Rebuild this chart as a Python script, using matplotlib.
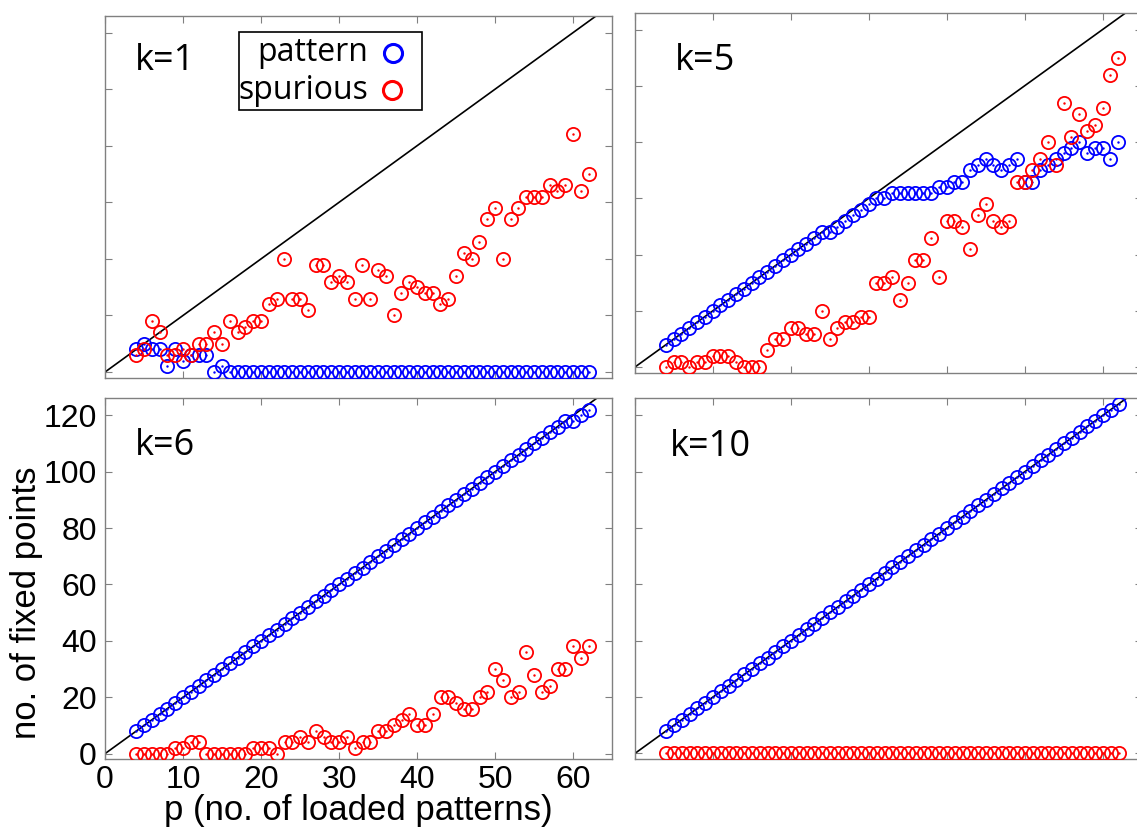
import numpy as np
import matplotlib
matplotlib.use("Agg")
import matplotlib.pyplot as plt
from matplotlib.patches import Rectangle

# loaded patterns p = 4 .. 62
p = np.arange(4, 63)

# k = 1
pattern_k1 = [8, 10, 8, 8, 2, 8, 4, 6, 6, 6, 0, 2] + [0] * 47
spurious_k1 = [6, 8, 18, 14, 6, 6, 8, 6, 10, 10, 14, 10, 18, 14, 16, 18, 18, 24, 26, 40,
               26, 26, 22, 38, 38, 32, 34, 32, 26, 38, 26, 36, 34, 20, 28, 32, 30, 28, 28, 24,
               26, 34, 42, 40, 46, 54, 58, 40, 54, 58, 62, 62, 62, 66, 64, 66, 84, 64, 70]

# k = 5
pattern_k5 = [8, 10, 12, 14, 16, 18, 20, 22, 24, 26, 28, 30, 32, 34, 36, 38, 40, 42, 44, 46,
              48, 48, 50, 52, 54, 56, 58, 60, 60, 62, 62, 62, 62, 62, 62, 64, 64, 66, 66, 70,
              72, 74, 72, 70, 72, 74, 66, 66, 70, 72, 74, 76, 78, 80, 76, 78, 78, 74, 80]
spurious_k5 = [0, 2, 2, 0, 2, 2, 4, 4, 4, 2, 0, 0, 0, 6, 10, 10, 14, 14, 12, 12,
               20, 10, 14, 16, 16, 18, 18, 30, 30, 32, 24, 30, 38, 38, 46, 32, 52, 52, 50, 42,
               54, 58, 52, 50, 52, 66, 66, 70, 74, 80, 72, 94, 82, 90, 84, 86, 92, 104, 110]

# k = 6
pattern_k6 = list(2 * np.arange(4, 60)) + [118, 120, 122]
spurious_k6 = [0, 0, 0, 0, 0, 2, 2, 4, 4, 0, 0, 0, 0, 0, 0, 2, 2, 2, 0, 4,
               4, 6, 4, 8, 6, 4, 4, 6, 2, 4, 4, 8, 8, 10, 12, 14, 10, 10, 14, 20,
               20, 18, 16, 16, 20, 22, 30, 26, 20, 22, 36, 28, 22, 24, 30, 30, 38, 34, 38]

# k = 10
pattern_k10 = list(2 * np.arange(4, 63))
spurious_k10 = [0] * 59

panels = [
    ("k=1", pattern_k1, spurious_k1),
    ("k=5", pattern_k5, spurious_k5),
    ("k=6", pattern_k6, spurious_k6),
    ("k=10", pattern_k10, spurious_k10),
]

W, H = 1137, 832
SPINE = "#808080"
AXFONT = "Liberation Sans"


def box(l, r, t, b):
    return [l / W, 1 - b / H, (r - l) / W, (b - t) / H]


positions = [
    box(105, 612, 15.7, 377.7),
    box(634.5, 1141.5, 12.7, 373),
    box(105, 612.3, 398.3, 759.3),
    box(635, 1142, 398.3, 759),
]
label_xy = [(0.059, 0.85), (0.08, 0.84), (0.059, 0.842), (0.069, 0.84)]

fig = plt.figure(figsize=(W / 100, H / 100), dpi=100)
fig.patch.set_facecolor("white")

xline = np.array([0, 65])

for i, ((name, pat, spu), pos) in enumerate(zip(panels, positions)):
    ax = fig.add_axes(pos)
    ax.set_xlim(0, 65)
    ax.set_ylim(-2, 126)

    ax.plot(xline, 2 * xline, color="black", lw=1.2, zorder=2)
    ax.plot(p, pat, ls="none", marker="o", ms=9.5, mfc="none", mec="blue", mew=1.3, zorder=3)
    ax.plot(p, pat, ls="none", marker=".", ms=1.5, color="blue", zorder=3)
    ax.plot(p, spu, ls="none", marker="o", ms=9.5, mfc="none", mec="red", mew=1.3, zorder=4)
    ax.plot(p, spu, ls="none", marker=".", ms=1.5, color="red", zorder=4)

    ax.set_xticks(np.arange(0, 61, 10))
    ax.set_yticks(np.arange(0, 121, 20))
    ax.tick_params(direction="in", top=True, right=True, length=5, width=0.8,
                   color=SPINE, labelsize=23)
    ax.tick_params(axis="y", pad=6)
    ax.tick_params(axis="x", pad=4)
    for s in ax.spines.values():
        s.set_color(SPINE)
        s.set_linewidth(1.0)

    if i == 2:
        for lab in ax.get_xticklabels() + ax.get_yticklabels():
            lab.set_fontfamily(AXFONT)
        ax.set_xlabel("p (no. of loaded patterns)", fontsize=25, family=AXFONT)
        ax.set_ylabel("no. of fixed points", fontsize=25, family=AXFONT)
        ax.xaxis.set_label_coords(0.5, -0.095)
        ax.yaxis.set_label_coords(-0.122, 0.435)
    else:
        ax.set_xticklabels([])
        ax.set_yticklabels([])

    lx, ly = label_xy[i]
    ax.text(lx, ly, name, transform=ax.transAxes, fontsize=26, family="Open Sans",
            ha="left", va="baseline")

    if i == 0:
        # legend box drawn by hand: text first, marker on the right
        ax.add_patch(Rectangle((0.264, 0.739), 0.361, 0.215, transform=ax.transAxes,
                               facecolor="white", edgecolor="black", lw=1.2, zorder=6))
        ax.text(0.519, 0.875, "pattern", transform=ax.transAxes, fontsize=23,
                family="Open Sans", ha="right", va="baseline", zorder=7)
        ax.text(0.519, 0.769, "spurious", transform=ax.transAxes, fontsize=23,
                family="Open Sans", ha="right", va="baseline", zorder=7)
        ax.plot([0.569], [0.896], transform=ax.transAxes, ls="none", marker="o", ms=13,
                mfc="none", mec="blue", mew=2.2, zorder=7)
        ax.plot([0.567], [0.795], transform=ax.transAxes, ls="none", marker="o", ms=13,
                mfc="none", mec="red", mew=2.2, zorder=7)

fig.savefig("out.png", dpi=100, facecolor="white")
